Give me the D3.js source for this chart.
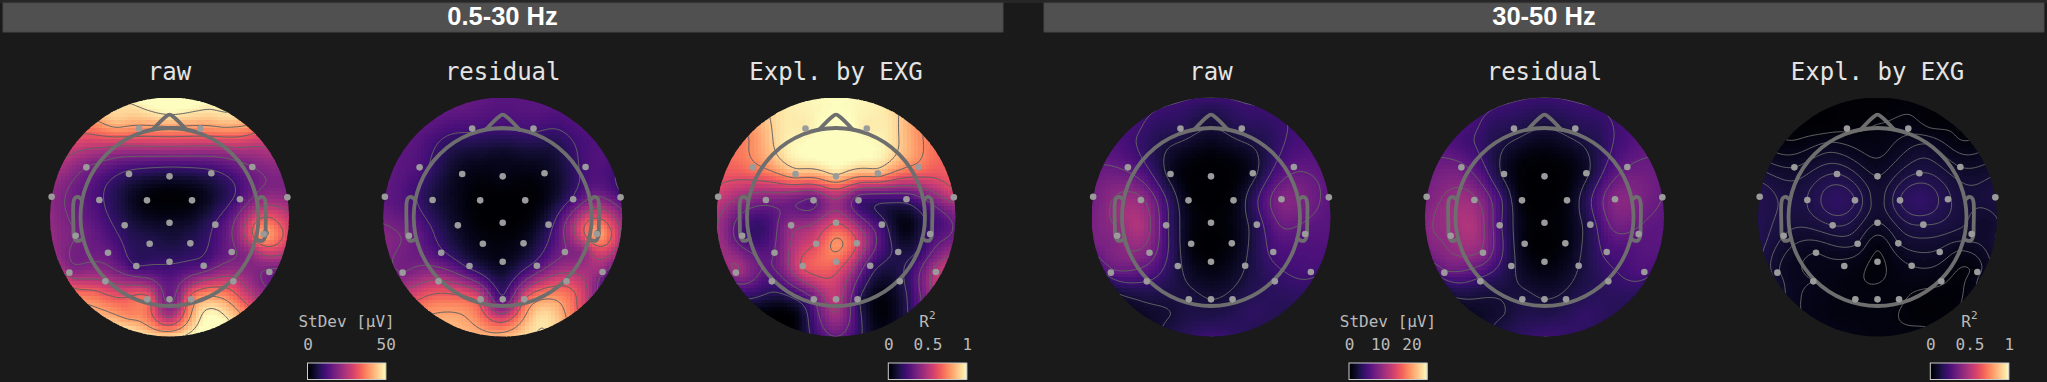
<!DOCTYPE html>
<html>
<head>
<meta charset="utf-8">
<script src="https://cdn.jsdelivr.net/npm/d3@7"></script>
<style>
  html, body { margin: 0; padding: 0; background: #1a1a1a; overflow: hidden; }
  text { font-family: "DejaVu Sans Mono", monospace; }
</style>
</head>
<body>
<div id="chart"></div>
<script>
// electrodes, x / y in units of the head radius (y up)
const sensorNames = ["Fp1","Fp2","F7","F3","Fz","F4","F8","FT9","FC5","FC1","FC2","FC6","FT10","T7","C3","Cz","C4","T8","TP9","CP5","CP1","CP2","CP6","TP10","P7","P3","Pz","P4","P8","O1","Oz","O2"];
const sensorX = [-.343,.346,-.934,-.455,0,.470,.931,-1.324,-.788,-.253,.253,.792,1.324,-1.054,-.504,0,.515,1.058,-1.125,-.691,-.223,.234,.699,1.122,-.721,-.373,0,.384,.717,-.249,0,.242];
const sensorY = [.993,.993,.558,.483,.457,.491,.562,.228,.191,.187,.187,.199,.221,-.210,-.094,-.064,-.086,-.191,-.625,-.401,-.300,-.296,-.393,-.618,-.723,-.551,-.502,-.547,-.723,-.925,-.925,-.925];

// readings off the picture away from the electrodes
const rimAngles = d3.range(0, 360, 20); // clockwise from the nose, on the edge of the map
const extraX = [0,0,-.55,.55,0,-.45,.45,-.8,.8,0,-.6,.6,-.95,.95,-.85,.85,0,0,-.5,.5,1.22,.9];
const extraY = [1,.75,.8,.8,-1.15,-1.1,-1.1,-.12,-.12,1.17,1.05,1.05,.9,.9,-.85,-.85,.2,-.3,.19,.19,-.08,-.38];

// values at the electrodes
const rawBroadSensors = [38,38,17.5,8.5,5,8.5,17.5,20,11,1,1,12.5,20,17.5,7.5,3.5,10.5,41,21,15,7.5,7.5,16.5,16.5,25,10,9.5,13,27.5,35,15,36];
const resBroadSensors = [11,11,12,2.5,2,2.5,11.5,13.5,6,0,0,11,12.5,16.5,3.5,0,7.5,41,17.5,11,2,3,17.5,20,26,8.5,2.5,12.5,30,30,11,32.5];
const expBroadSensors = [.96,.96,.72,.83,.88,.83,.72,.55,.35,.28,.22,.2,.5,.22,.42,.6,.2,.22,.45,.3,.6,.6,.13,.5,.22,.62,.68,.22,.12,.3,.52,.18];
const rawGammaSensors = [3.75,3.75,7,1.75,0,1.75,7,8,10.5,.75,.75,9.25,7,9.5,5.5,.25,3.75,6.5,6.75,8.75,.75,.75,5.5,5.5,5,3,.5,2.5,4.25,3,2.5,3];
const resGammaSensors = [3.5,3.5,8,2,0,2,7.5,8.75,10.5,.5,.75,9.5,7.5,10.5,5.5,.25,3.75,7,7,9.5,.75,.75,5.5,6,4.25,3,.5,2.5,4.25,3,2.5,3];
const expGammaSensors = [.02,.04,.075,.125,.075,.125,.075,.13,.125,.15,.15,.13,.12,.1,.125,.075,.125,.09,.08,.05,.075,.075,.07,.035,.05,.04,.02,.05,.03,.03,.03,.03];

// values on the rim
const rawBroadRim = [55,49,40,22,19,30,15,35,52,46,47,41,27,21,20,25,37,47];
const resBroadRim = [13.5,13.5,12.5,12.5,11,25,12.5,31,47.5,42.5,42.5,37.5,19,19,15,14,14,15];
const expBroadRim = [1,.97,.8,.68,.55,.33,.55,.2,.05,.3,.03,.05,.35,.45,.55,.7,.83,.97];
const rawGammaRim = [5,5,5,6.5,7,6.5,5,3.75,3.75,5,3,1.75,4.5,8.75,8.75,7,5.5,5];
const resGammaRim = [5,5,5.5,7.5,7.5,7,5,3.75,4.25,5,3.25,1.75,5,9.5,8.75,7.5,5.75,5];
const expGammaRim = [.01,.02,.02,.06,.12,.1,.06,.02,.03,.03,.04,.05,.1,.14,.15,.06,.01,.01];

// values at the extra points
const rawBroadExtra = [39,22,25,25,26,37.5,50,13.5,22.5,48.5,42.5,42.5,31,30,34,27.5,.5,6,5,5,33,21];
const resBroadExtra = [10.5,4,7,6,30,40,46.5,10,25,12.5,12.5,11,13.5,12,31,31,0,1.5,2.5,2.5,30,20];
const expBroadExtra = [1.05,1.03,.97,.97,.42,.03,.03,.2,.03,1,.95,.95,.76,.76,.18,.2,.45,.78,.33,.18,.25,.14];
const rawGammaExtra = [2.5,.75,3,3,3.5,2.5,4.25,12,7.5,3.25,4.25,4.25,5.5,5.5,3.25,4.25,0,0,5,4.5,6.75,6];
const resGammaExtra = [2.5,.75,3.25,3.25,3.75,2.5,4.5,12,8,3.75,4.25,4.25,5.5,6,3.25,4.25,0,0,5.5,4.5,7,6];
const expGammaExtra = [.03,.04,.06,.08,.03,.03,.01,.1,.11,.01,.005,.015,.02,.02,.05,.015,.09,.03,.17,.18,.08,.05];

// contour levels
const broadLevels = [10,17.5,25,32.5,40,47.5];
const expBroadLevels = [.15,.3,.45,.6,.75,.9];
const gammaLevels = [2.5,5,7.5,10,12.5];
const expGammaLevels = [.025,.05,.075,.1,.125,.15];

// outline of the head, same units as the electrodes
const noseX = [-.19,-.05,0,.05,.19];
const noseY = [.98,1.12,1.15,1.12,.98];
const earX = [.985,1.03,1.065,1.08,1.08,1.075,1.05,1.01,.97];
const earY = [.19,.225,.21,.16,-.1,-.22,-.265,-.265,-.24];

const bandTitles = ["0.5-30 Hz","30-50 Hz"];

const width = 2047;
const height = 382;
const mapY = 217;
const mapR = 119.5;
const headR = 89;
const extent = mapR / headR;
const gridSize = 64;

const maps = [
  { title: "raw", cx: 169.5, sensors: rawBroadSensors, rim: rawBroadRim, extra: rawBroadExtra, levels: broadLevels, vmax: 50 },
  { title: "residual", cx: 502.7, sensors: resBroadSensors, rim: resBroadRim, extra: resBroadExtra, levels: broadLevels, vmax: 50 },
  { title: "Expl. by EXG", cx: 836, sensors: expBroadSensors, rim: expBroadRim, extra: expBroadExtra, levels: expBroadLevels, vmax: 1 },
  { title: "raw", cx: 1211, sensors: rawGammaSensors, rim: rawGammaRim, extra: rawGammaExtra, levels: gammaLevels, vmax: 25 },
  { title: "residual", cx: 1544.5, sensors: resGammaSensors, rim: resGammaRim, extra: resGammaExtra, levels: gammaLevels, vmax: 25 },
  { title: "Expl. by EXG", cx: 1877.5, sensors: expGammaSensors, rim: expGammaRim, extra: expGammaExtra, levels: expGammaLevels, vmax: 1 }
];

const colorbars = [
  { x0: 307.5, x1: 385.7, vmax: 50, ticks: [0,50], label: "StDev [μV]" },
  { x0: 888.3, x1: 966.7, vmax: 1, ticks: [0,.5,1], label: "R" },
  { x0: 1349, x1: 1427, vmax: 25, ticks: [0,10,20], label: "StDev [μV]" },
  { x0: 1930.3, x1: 2008.7, vmax: 1, ticks: [0,.5,1], label: "R" }
];

const svg = d3.select("#chart")
  .append("svg")
  .attr("width", width)
  .attr("height", height);

// header bars
const bars = [[3, 1003], [1044, 2044]];
svg.append("rect")
  .attr("width", width)
  .attr("height", 3)
  .attr("fill", "#262626");
svg.selectAll("rect.band")
  .data(bars)
  .join("rect")
  .attr("class", "band")
  .attr("x", d => d[0])
  .attr("y", 3)
  .attr("width", d => d[1] - d[0])
  .attr("height", 29)
  .attr("fill", "#505050")
  .attr("stroke", "#464646")
  .attr("stroke-width", 1);

svg.selectAll("text.band")
  .data(bandTitles)
  .join("text")
  .attr("class", "band")
  .attr("x", (d, i) => i ? 1544 : 502.5)
  .attr("y", 25)
  .attr("text-anchor", "middle")
  .style("font-family", "'Liberation Sans', Arial, sans-serif")
  .style("font-weight", "bold")
  .style("font-size", "25.5px")
  .attr("fill", "#fff")
  .text(d => d);

// thin plate spline through the read values, the picture's field is a smooth surface
function kernel(r2) {
  return r2 > 0 ? r2 * Math.log(r2) / 2 : 0;
}

function solve(A, b) {
  const n = b.length;
  for (let i = 0; i < n; i++) {
    let p = i;
    for (let k = i + 1; k < n; k++) if (Math.abs(A[k][i]) > Math.abs(A[p][i])) p = k;
    [A[i], A[p]] = [A[p], A[i]];
    [b[i], b[p]] = [b[p], b[i]];
    for (let k = i + 1; k < n; k++) {
      const f = A[k][i] / A[i][i];
      if (f === 0) continue;
      for (let j = i; j < n; j++) A[k][j] -= f * A[i][j];
      b[k] -= f * b[i];
    }
  }
  const x = new Array(n).fill(0);
  for (let i = n - 1; i >= 0; i--) {
    let s = b[i];
    for (let j = i + 1; j < n; j++) s -= A[i][j] * x[j];
    x[i] = s / A[i][i];
  }
  return x;
}

function fitField(m) {
  const px = sensorX.concat(rimAngles.map(a => extent * Math.sin(a * Math.PI / 180)), extraX);
  const py = sensorY.concat(rimAngles.map(a => extent * Math.cos(a * Math.PI / 180)), extraY);
  const vals = m.sensors.concat(m.rim, m.extra);
  const n = vals.length;
  const A = d3.range(n + 3).map(() => new Array(n + 3).fill(0));
  for (let i = 0; i < n; i++) {
    for (let j = 0; j < n; j++) {
      A[i][j] = kernel((px[i]-px[j])**2 + (py[i]-py[j])**2);
    }
    A[i][i] += 0.002;
    A[i][n] = A[n][i] = 1;
    A[i][n+1] = A[n+1][i] = px[i];
    A[i][n+2] = A[n+2][i] = py[i];
  }
  const w = solve(A, vals.concat([0,0,0]));
  return (x, y) => {
    let s = w[n] + w[n+1] * x + w[n+2] * y;
    for (let i = 0; i < n; i++) s += w[i] * kernel((x-px[i])**2 + (y-py[i])**2);
    return s;
  };
}

const defs = svg.append("defs");

maps.forEach((m, mapIdx) => {
  const xPos = d3.scaleLinear().domain([-1, 1]).range([m.cx - headR, m.cx + headR]);
  const yPos = d3.scaleLinear().domain([-1, 1]).range([mapY + headR, mapY - headR]);
  const color = d3.scaleSequential(d3.interpolateMagma).domain([0, m.vmax]).clamp(true);
  const field = fitField(m);

  defs.append("clipPath")
    .attr("id", "clip" + mapIdx)
    .append("circle")
    .attr("cx", m.cx)
    .attr("cy", mapY)
    .attr("r", mapR);

  // panel title
  svg.append("text")
    .attr("x", m.cx)
    .attr("y", 80)
    .attr("text-anchor", "middle")
    .attr("fill", "#e4e4e4")
    .style("font-size", "24px")
    .text(m.title);

  const g = svg.append("g").attr("clip-path", `url(#clip${mapIdx})`);

  // image cells
  const band = d3.scaleBand().domain(d3.range(gridSize)).range([-extent, extent]);
  const cells = d3.cross(d3.range(gridSize), d3.range(gridSize))
    .map(([i, j]) => ({ i, j, x: band(i) + band.bandwidth() / 2, y: band(j) + band.bandwidth() / 2 }))
    .filter(d => Math.hypot(d.x, d.y) < extent + band.bandwidth());

  g.selectAll("rect")
    .data(cells)
    .join("rect")
    .attr("x", d => xPos(band(d.i)))
    .attr("y", d => yPos(band(d.j) + band.bandwidth()))
    .attr("width", xPos(band.bandwidth()) - xPos(0) + 0.5)
    .attr("height", xPos(band.bandwidth()) - xPos(0) + 0.5)
    .attr("shape-rendering", "crispEdges")
    .attr("fill", d => color(field(d.x, d.y)));

  // contour lines on a finer grid that runs past the circle
  const fine = 150;
  const span = extent * 1.06;
  const gridStep = d3.scaleLinear().domain([0, fine - 1]).range([-span, span]);
  const values = new Float64Array(fine * fine);
  for (let j = 0; j < fine; j++) {
    for (let i = 0; i < fine; i++) {
      values[j * fine + i] = field(gridStep(i), gridStep(j));
    }
  }
  const contours = d3.contours().size([fine, fine]).thresholds(m.levels)(values);
  const path = d3.geoPath(d3.geoTransform({
    point(x, y) {
      this.stream.point(xPos(gridStep(x - .5)), yPos(gridStep(y - .5)));
    }
  }));
  g.selectAll("path")
    .data(contours)
    .join("path")
    .attr("d", path)
    .attr("fill", "none")
    .attr("stroke", "#636363")
    .attr("stroke-width", 1);

  // head outline
  const line = d3.line().x(d => xPos(d[0])).y(d => yPos(d[1])).curve(d3.curveCatmullRom);
  const head = svg.append("g")
    .attr("fill", "none")
    .attr("stroke", "#6e6e6e")
    .attr("stroke-width", 3.8)
    .attr("stroke-linejoin", "round")
    .attr("stroke-linecap", "round");
  head.append("circle").attr("cx", m.cx).attr("cy", mapY).attr("r", headR);
  head.append("path").attr("d", line(d3.zip(noseX, noseY)));
  head.append("path").attr("d", line(d3.zip(earX, earY)));
  head.append("path").attr("d", line(d3.zip(earX.map(d => -d), earY)));

  // electrodes
  svg.append("g")
    .selectAll("circle")
    .data(sensorNames)
    .join("circle")
    .attr("cx", (d, i) => xPos(sensorX[i]))
    .attr("cy", (d, i) => yPos(sensorY[i]))
    .attr("r", 3.3)
    .attr("fill", "#9b9b9b");
});

// colorbars
colorbars.forEach(c => {
  const barX = d3.scaleLinear().domain([0, c.vmax]).range([c.x0, c.x1]);
  const color = d3.scaleSequential(d3.interpolateMagma).domain([0, c.vmax]);
  const steps = d3.range(0, 78).map(d => d / 78 * c.vmax);
  svg.append("g")
    .selectAll("rect")
    .data(steps)
    .join("rect")
    .attr("x", d => barX(d))
    .attr("y", 363)
    .attr("width", (c.x1 - c.x0) / 78 + .5)
    .attr("height", 16.5)
    .attr("fill", d => color(d));
  svg.append("rect")
    .attr("x", c.x0)
    .attr("y", 363)
    .attr("width", c.x1 - c.x0)
    .attr("height", 16.5)
    .attr("fill", "none")
    .attr("stroke", "#ccc")
    .attr("stroke-width", 1);

  const axis = d3.axisTop(barX).tickValues(c.ticks).tickSize(0).tickPadding(0).tickFormat(d3.format("~g"));
  const ax = svg.append("g")
    .attr("transform", "translate(0,350)")
    .call(axis);
  ax.select(".domain").remove();
  ax.selectAll("text")
    .attr("fill", "#bbb")
    .attr("y", 0)
    .attr("dy", 0)
    .style("font-family", "'DejaVu Sans Mono', monospace")
    .style("font-size", "16px");

  const label = svg.append("text")
    .attr("x", (c.x0 + c.x1) / 2)
    .attr("y", 327)
    .attr("text-anchor", "middle")
    .attr("fill", "#bbb")
    .style("font-size", "16px")
    .text(c.label);
  if (c.label === "R") {
    label.append("tspan").attr("dy", -8).style("font-size", "11px").text("2");
  }
});
</script>
</body>
</html>
